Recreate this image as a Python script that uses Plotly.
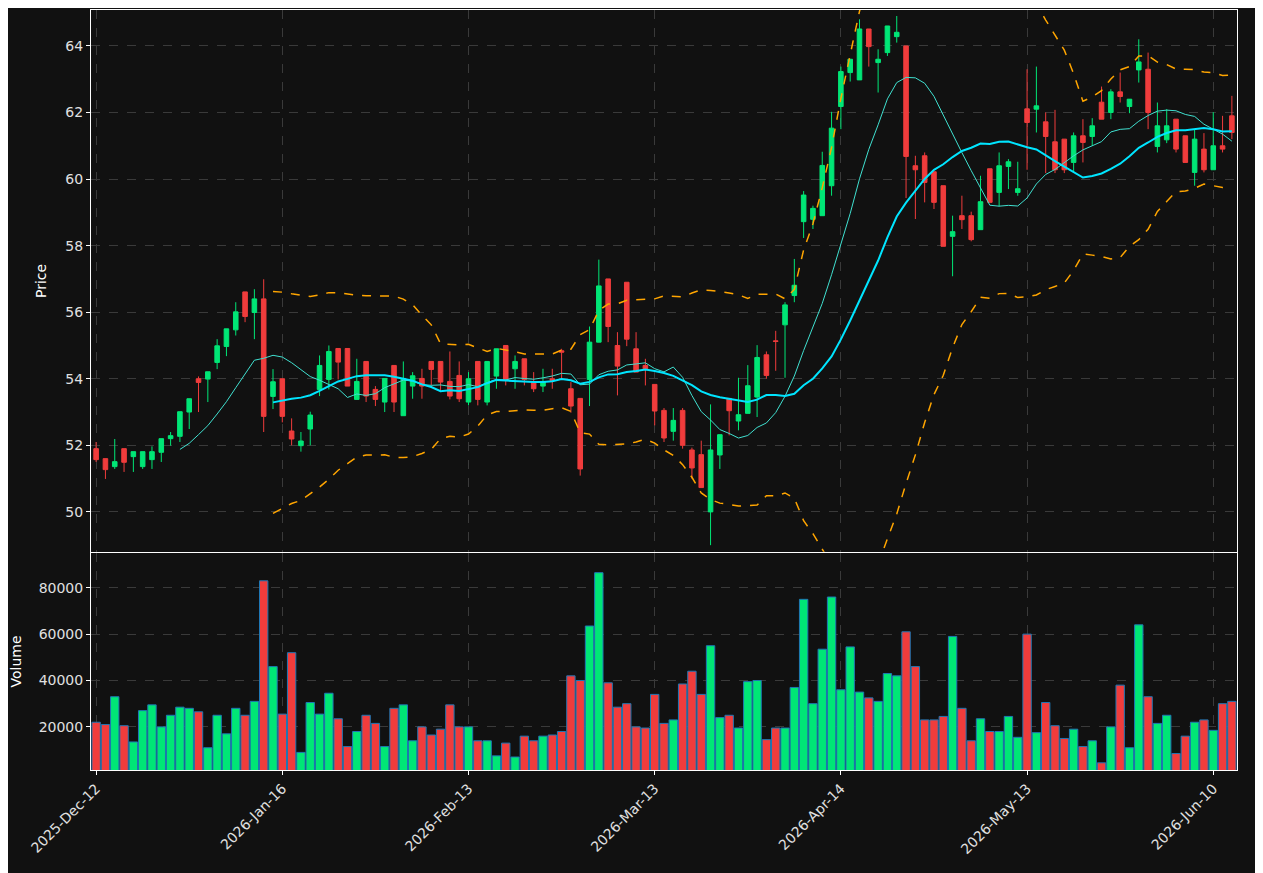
import plotly.graph_objects as go
from plotly.subplots import make_subplots
import pandas as pd

opens = [51.9,51.6,51.36,51.9,51.66,51.36,51.57,51.79,52.2,52.27,53.0,54.0,53.99,54.49,54.97,55.47,56.61,55.99,56.4,53.47,
         54.0,52.43,51.99,52.49,53.68,53.98,54.91,54.91,53.38,54.52,53.68,53.3,54.4,52.89,53.78,54.01,54.52,54.52,53.92,54.1,
         53.3,54.52,53.3,54.08,55.0,54.3,54.6,53.9,53.78,54.0,54.84,53.7,53.41,53.98,55.1,57.0,55.0,56.9,54.9,54.4,
         53.83,53.05,52.42,53.05,51.86,51.72,50.0,51.71,53.41,52.73,52.96,53.45,54.72,55.14,55.62,56.5,58.72,58.79,58.9,59.8,
         62.18,63.2,62.98,64.51,63.5,63.8,64.28,64.0,60.4,60.7,60.22,59.8,58.28,58.9,58.9,58.48,60.31,59.6,60.38,59.6,
         62.11,62.1,61.72,61.12,61.2,60.5,61.3,61.28,62.31,62.0,62.62,62.18,63.28,63.3,60.98,61.18,61.8,61.3,60.2,60.9,
         60.28,61.0,61.9]
closes = [51.57,51.27,51.51,51.49,51.81,51.81,51.81,52.2,52.29,53.01,53.4,53.89,54.21,54.99,55.5,56.01,55.87,56.4,52.87,53.91,
          52.87,52.19,52.13,52.91,54.4,54.82,54.5,53.78,53.92,53.48,53.38,54.01,53.3,54.01,54.09,53.78,54.28,53.9,53.48,53.4,
          54.0,53.38,54.52,54.9,53.98,54.52,53.98,53.7,53.9,53.95,54.8,53.18,51.29,55.1,56.79,55.57,54.38,55.19,54.2,54.3,
          53.03,52.22,52.75,52.0,51.32,50.73,51.86,52.32,53.04,52.92,53.79,54.64,54.1,55.12,56.22,56.81,59.52,59.12,60.41,61.53,
          63.23,63.6,64.51,63.98,63.6,64.6,64.41,60.68,60.28,59.9,59.3,57.98,58.42,58.78,58.18,59.32,59.3,60.4,60.52,59.71,
          61.7,62.2,61.28,60.28,60.28,61.3,61.1,61.6,61.8,62.62,62.48,62.4,63.52,62.0,61.6,61.6,60.9,60.5,61.2,60.28,
          61.0,60.9,61.4]
highs = [52.1,51.6,52.19,51.9,51.81,51.81,51.97,52.2,52.4,53.01,53.4,54.07,54.21,55.19,55.5,56.3,56.61,56.69,56.99,54.29,
         54.0,52.81,52.4,53.01,54.7,55.0,54.91,54.91,54.6,54.52,53.78,54.01,54.4,54.52,54.2,54.3,54.52,54.52,54.82,54.52,
         54.2,54.52,54.52,54.9,55.0,54.7,54.6,54.2,54.3,54.3,54.9,53.9,53.41,55.57,57.58,57.0,55.4,56.9,55.4,54.6,
         53.83,53.12,53.12,53.12,51.93,52.14,53.23,52.32,53.41,54.03,54.41,55.01,54.82,55.44,56.3,57.6,59.64,59.2,60.82,62.02,
         63.38,63.6,64.8,64.51,63.9,64.6,64.9,64.0,60.7,60.8,60.22,59.8,58.9,59.5,59.02,60.1,60.31,60.8,60.6,60.52,
         63.3,63.38,62.0,62.08,61.2,61.4,61.8,61.83,62.78,62.7,63.2,62.0,64.2,63.8,62.3,62.1,61.8,61.3,61.5,61.38,
         62.01,61.9,62.5]
lows = [51.5,50.99,51.29,51.2,51.2,51.29,51.29,51.5,51.99,52.1,52.49,53.0,53.3,54.29,54.68,55.3,55.7,55.19,52.4,53.09,
        52.69,52.0,51.81,52.0,53.48,53.68,53.98,53.78,53.38,53.3,53.18,53.0,53.0,52.89,53.4,53.4,53.8,53.6,53.38,53.3,
        53.2,53.2,53.2,53.7,53.8,53.7,53.8,53.6,53.6,53.7,54.0,52.98,51.09,53.18,55.4,55.1,53.5,54.98,54.2,53.8,
        52.6,52.1,52.14,51.9,51.0,50.73,49.0,51.29,52.3,52.45,52.96,52.85,54.0,54.24,54.03,56.3,58.23,58.5,58.9,59.5,
        61.5,62.93,62.98,63.38,62.6,63.7,64.1,59.43,58.8,59.3,59.1,57.98,57.08,58.5,58.13,58.48,59.3,59.18,59.7,59.5,
        60.28,61.4,60.18,60.18,60.18,60.2,60.5,61.0,61.8,61.8,62.3,61.98,62.9,61.5,60.8,61.08,60.8,60.5,59.8,60.2,
        60.28,60.8,61.2]
volumes = [22000,21000,33000,20500,13500,27000,29500,20000,25000,28500,28000,26500,11000,25000,17000,28000,25000,31000,83000,46000,
           25500,52000,9000,30500,25500,34500,23500,11500,18000,25000,21500,11500,28000,29500,14000,20000,16500,19000,29500,20000,
           20000,14000,14000,7500,13000,7000,16000,14000,16000,16500,18000,42000,40000,63500,86500,39000,28500,30000,20000,19500,
           34000,21500,23000,38500,44000,34000,55000,24000,25000,19500,39500,40000,14500,19500,19500,37000,75000,30000,53500,76000,
           36000,54500,35000,32500,31000,43000,42000,61000,46000,23000,23000,24500,59000,28000,14000,23500,18000,18000,24500,15500,
           60000,17500,30500,20500,15000,19000,11500,14000,4500,20000,38000,11000,64000,33000,21500,25000,8500,16000,22000,23000,
           18500,30000,31000]
tick_idx = [0, 20, 40, 60, 80, 100, 120]
tick_labels = ["2025-Dec-12", "2026-Jan-16", "2026-Feb-13", "2026-Mar-13", "2026-Apr-14", "2026-May-13", "2026-Jun-10"]

GREEN, RED = "#00e676", "#f03c3c"
x = list(range(len(opens)))
c = pd.Series(closes)
sma10 = c.rolling(10).mean()
sma20 = c.rolling(20).mean()
std20 = c.rolling(20).std(ddof=0)
upper, lower = sma20 + 2 * std20, sma20 - 2 * std20

fig = make_subplots(rows=2, cols=1, shared_xaxes=True, vertical_spacing=0.0015,
                    row_heights=[0.714, 0.286])
fig.add_trace(go.Candlestick(x=x, open=opens, high=highs, low=lows, close=closes,
                             increasing=dict(line=dict(color=GREEN, width=1), fillcolor=GREEN),
                             decreasing=dict(line=dict(color=RED, width=1), fillcolor=RED),
                             whiskerwidth=0, showlegend=False), row=1, col=1)
fig.add_trace(go.Scatter(x=x, y=sma10, mode="lines", line=dict(color="#40e0d0", width=1), showlegend=False), row=1, col=1)
fig.add_trace(go.Scatter(x=x, y=sma20, mode="lines", line=dict(color="#00e5ff", width=2), showlegend=False), row=1, col=1)
for b in (upper, lower):
    fig.add_trace(go.Scatter(x=x, y=b, mode="lines", line=dict(color="#ffa500", width=1.5, dash="dash"), showlegend=False), row=1, col=1)
vcol = [GREEN if cl >= op else RED for op, cl in zip(opens, closes)]
fig.add_trace(go.Bar(x=x, y=volumes, marker=dict(color=vcol, line=dict(color="#1f77b4", width=1)), width=0.9,
                     showlegend=False), row=2, col=1)

axis_common = dict(showline=True, linecolor="white", linewidth=1, mirror=True,
                   gridcolor="#3a3a3a", griddash="dash", zeroline=False,
                   tickfont=dict(color="#e0e0e0", size=14), ticks="outside", tickcolor="white", ticklen=4)
fig.update_xaxes(**axis_common, range=[-0.55, 122.55], tickvals=tick_idx, ticktext=tick_labels,
                 rangeslider_visible=False)
fig.update_xaxes(showticklabels=False, row=1, col=1)
fig.update_xaxes(tickangle=-45, row=2, col=1)
fig.update_yaxes(**axis_common)
fig.update_yaxes(range=[48.8, 65.08], dtick=2, title=dict(text="Price", font=dict(color="white", size=14)), row=1, col=1)
fig.update_yaxes(range=[1400, 95000], tickvals=[20000, 40000, 60000, 80000], tickformat="d",
                 title=dict(text="Volume", font=dict(color="white", size=14)), row=2, col=1)
fig.update_layout(width=1263, height=873, paper_bgcolor="#111111", plot_bgcolor="#111111",
                  margin=dict(l=83, r=34, t=2, b=111), bargap=0.1,
                  font=dict(family="DejaVu Sans", color="white"))
fig.write_html("out.html")
